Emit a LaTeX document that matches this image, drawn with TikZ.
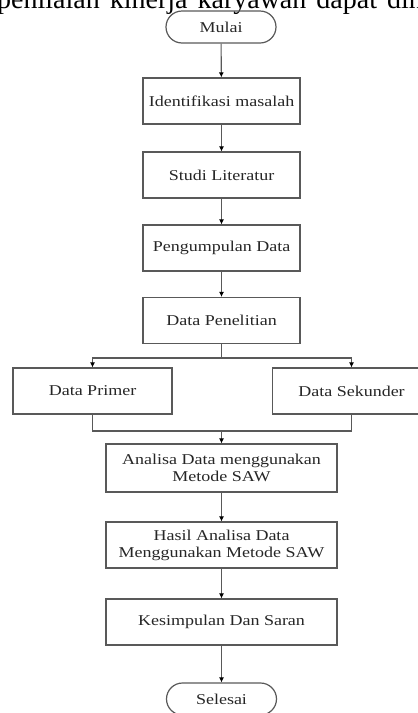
\documentclass[tikz,border=0pt]{standalone}
\usepackage{fontspec}
\setmainfont{Liberation Serif}
\newfontfamily\boxfont[FakeStretch=1.2]{Liberation Serif}
\usetikzlibrary{arrows.meta}
\begin{document}
\begin{tikzpicture}[x=1pt,y=-1pt,
  box/.style={draw=black!65, line width=1.2pt, minimum height=46pt, text=black!85,
    font=\boxfont\fontsize{15}{17}\selectfont, align=center, inner sep=0pt},
  term/.style={box, rounded corners=16pt, minimum height=32pt, minimum width=110pt},
  conn/.style={draw=black!65, line width=1.1pt},
  arr/.style={conn, -{Latex[length=5pt,width=5pt,fill=black,color=black]}}]
\useasboundingbox (0,0) rectangle (418,713);
\clip (0,0) rectangle (418,713);
\node[anchor=base west, inner sep=0pt, font=\fontsize{28}{30}\selectfont] (top) at (-3,8.5)
  {penilaian\hspace{10pt}kinerja\hspace{10pt}karyawan\hspace{10pt}dapat\hspace{10pt}dinilai};
\node[term] (mulai) at (221,27) {Mulai};
\node[box, minimum width=157pt] (ident) at (221.5,101) {Identifikasi masalah};
\node[box, minimum width=157pt] (studi) at (221.5,175) {Studi Literatur};
\node[box, minimum width=157pt] (kumpul) at (221.5,248) {Pengumpulan Data};
\node[box, minimum width=157pt] (dpen) at (221.5,320.5) {Data Penelitian};
\node[box, minimum width=159pt] (prim) at (92.5,391) {Data Primer};
\node[box, minimum width=158pt] (sek) at (351.5,391) {Data Sekunder};
\node[box, minimum width=231pt, minimum height=48pt] (ana) at (221.5,468) {Analisa Data menggunakan\\Metode SAW};
\node[box, minimum width=231pt] (hasil) at (221.5,545) {Hasil Analisa Data\\Menggunakan Metode SAW};
\node[box, minimum width=231pt] (kes) at (221.5,622) {Kesimpulan Dan Saran};
\node[term] (sel) at (221.5,699) {Selesai};
\draw[arr] (mulai) -- (ident);
\draw[arr] (ident) -- (studi);
\draw[arr] (studi) -- (kumpul);
\draw[arr] (kumpul) -- (dpen);
\coordinate (br) at (221.5,358);
\draw[conn] (dpen) -- (br);
\draw[arr] (br) -| (prim);
\draw[arr] (br) -| (sek);
\coordinate (mg) at (221.5,431);
\draw[conn] (prim) |- (mg);
\draw[conn] (sek) |- (mg);
\draw[arr] (mg) -- (ana);
\draw[arr] (ana) -- (hasil);
\draw[arr] (hasil) -- (kes);
\draw[arr] (kes) -- (sel);
\end{tikzpicture}
\end{document}
